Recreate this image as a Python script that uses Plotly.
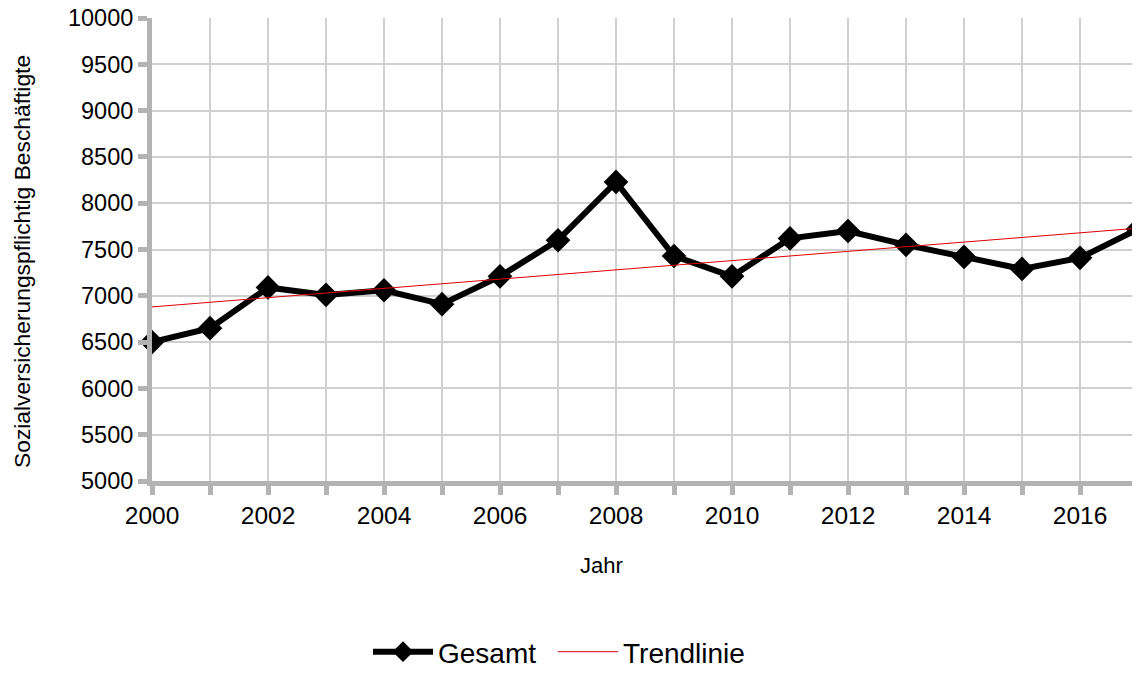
import plotly.graph_objects as go

years = list(range(2000, 2018))
gesamt = [6500, 6650, 7090, 7010, 7060, 6910, 7210, 7600, 8230, 7430,
          7210, 7620, 7700, 7550, 7420, 7290, 7410, 7720]
trend_years = [2000, 2017]
trend_values = [6880, 7730]
y_ticks = list(range(5000, 10001, 500))
y_tick_labels = [str(v) for v in y_ticks]
x_tick_labels = [str(y) if y % 2 == 0 else "" for y in years]

FONT = "Liberation Sans, Arial, sans-serif"
GRAY = "#b3b3b3"
GRID = "#d0d0d0"

# page has an 8px body margin; compensate so the plot lands where the reference has it
OFF = 8
L, R, T, B = 152 - OFF, 2, 18 - OFF, 192
W, H = 1140 - OFF, 673 - OFF
plot_w = W - L - R
plot_h = H - T - B

def px_x(page_x):
    return (page_x - 152) / plot_w

def px_y(page_y):
    return (481 - page_y) / plot_h

fig = go.Figure()
fig.add_trace(go.Scatter(
    x=years, y=gesamt, name="Gesamt", mode="lines+markers",
    line=dict(color="black", width=6),
    marker=dict(symbol="diamond", size=19, color="black"),
    cliponaxis=False, legendwidth=110,
))
fig.add_trace(go.Scatter(
    x=trend_years, y=trend_values, name="Trendlinie", mode="lines",
    line=dict(color="#e00000", width=1),
))

fig.update_layout(
    width=W, height=H,
    margin=dict(l=L, r=R, t=T, b=B, autoexpand=False),
    paper_bgcolor="white", plot_bgcolor="white",
    font=dict(family=FONT, size=23, color="black"),
    showlegend=True,
    legend=dict(orientation="h", x=px_x(559), xanchor="center", y=px_y(652), yanchor="middle",
                font=dict(size=28), itemwidth=60, tracegroupgap=0),
    annotations=[
        dict(text="Jahr", x=px_x(601), y=px_y(565), xref="paper", yref="paper",
             showarrow=False, font=dict(size=22), xanchor="center", yanchor="middle"),
        dict(text="Sozialversicherungspflichtig Beschäftigte", x=px_x(22), y=px_y(262),
             xref="paper", yref="paper", showarrow=False, textangle=-90,
             font=dict(size=22.8), xanchor="center", yanchor="middle"),
    ],
)

fig.update_xaxes(
    range=[2000, 2017], tickvals=years, ticktext=x_tick_labels,
    showgrid=True, gridcolor=GRID, gridwidth=1.5,
    showline=True, linecolor=GRAY, linewidth=5,
    ticks="outside", ticklen=9, tickwidth=5, tickcolor=GRAY,
    zeroline=False, tickfont=dict(size=24.5), ticklabeloverflow="allow",
)
fig.update_yaxes(
    range=[5000, 10000], tickvals=y_ticks, ticktext=y_tick_labels,
    showgrid=True, gridcolor=GRID, gridwidth=1.5,
    showline=True, linecolor=GRAY, linewidth=5,
    ticks="outside", ticklen=9, tickwidth=5, tickcolor=GRAY,
    zeroline=False, tickfont=dict(size=23.5), ticklabeloverflow="allow",
)

fig.write_html("out.html")
